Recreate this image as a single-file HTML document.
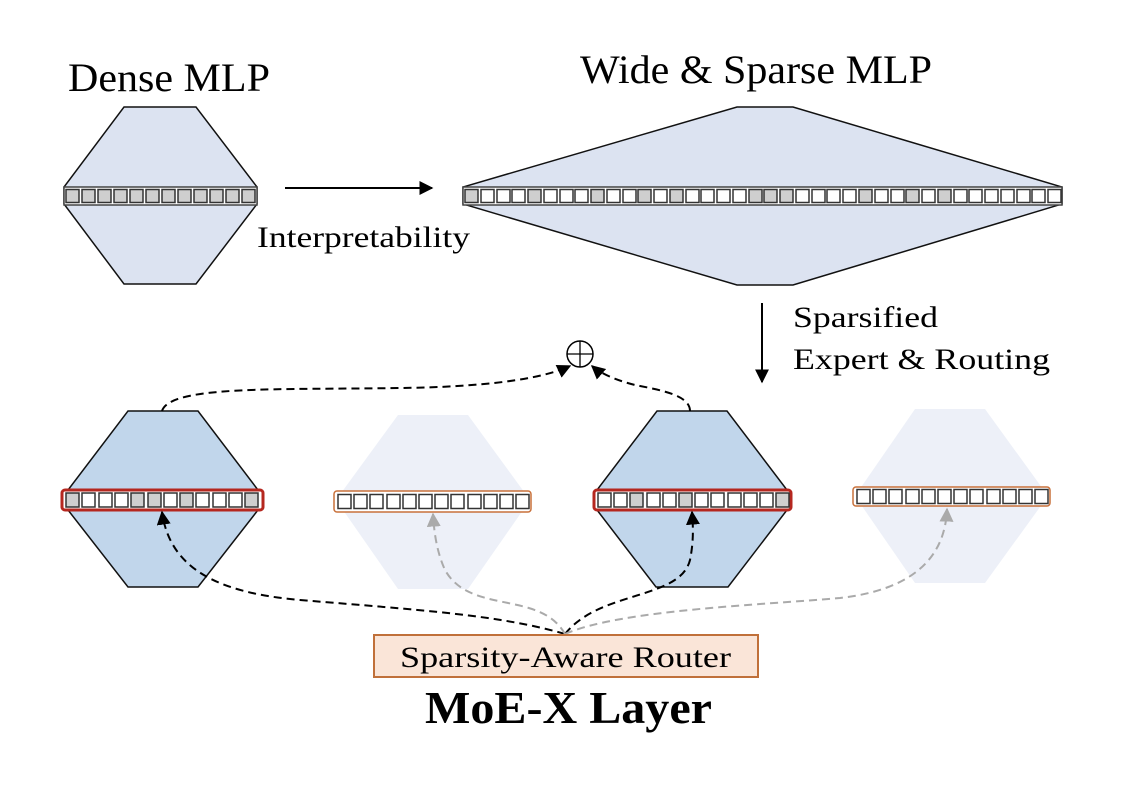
<!DOCTYPE html>
<html><head><meta charset="utf-8"><style>
html,body{margin:0;padding:0;background:#fff;width:1146px;height:802px;overflow:hidden}
svg{display:block}
text{font-family:"Liberation Serif",serif;fill:#000}
.c{stroke:#333;stroke-width:1.5;fill:#fff}
.g{stroke:#333;stroke-width:1.5;fill:#cfcfcf}
</style></head><body>
<svg width="1146" height="802" viewBox="0 0 1146 802" xmlns="http://www.w3.org/2000/svg">
<defs>
<marker id="ab" viewBox="0 0 10 10" refX="9" refY="5" markerWidth="7" markerHeight="7" orient="auto"><path d="M0,0 L10,5 L0,10 z" fill="#000"/></marker>
<marker id="ag" viewBox="0 0 10 10" refX="9" refY="5" markerWidth="7" markerHeight="7" orient="auto"><path d="M0,0 L10,5 L0,10 z" fill="#aaa"/></marker>
</defs>
<text x="68" y="91" font-size="40" textLength="202" lengthAdjust="spacingAndGlyphs">Dense MLP</text>
<text x="580" y="83" font-size="40" textLength="352" lengthAdjust="spacingAndGlyphs">Wide &amp; Sparse MLP</text>

<!-- dense hex -->
<polygon points="124,107 196,107 257,187 257,204 196,284 124,284 64,204 64,187" fill="#dce3f1" stroke="#111" stroke-width="1.5"/>
<rect x="64" y="187" width="193" height="18" fill="#fff" stroke="#444" stroke-width="1.5"/>
<g>
<rect class="g" x="66" y="189.5" width="13" height="13"/><rect class="g" x="82" y="189.5" width="13" height="13"/><rect class="g" x="98" y="189.5" width="13" height="13"/><rect class="g" x="114" y="189.5" width="13" height="13"/><rect class="g" x="130" y="189.5" width="13" height="13"/><rect class="g" x="146" y="189.5" width="13" height="13"/><rect class="g" x="162" y="189.5" width="13" height="13"/><rect class="g" x="178" y="189.5" width="13" height="13"/><rect class="g" x="194" y="189.5" width="13" height="13"/><rect class="g" x="210" y="189.5" width="13" height="13"/><rect class="g" x="226" y="189.5" width="13" height="13"/><rect class="g" x="242" y="189.5" width="13" height="13"/>
</g>

<line x1="285" y1="188" x2="432" y2="188" stroke="#000" stroke-width="2" marker-end="url(#ab)"/>
<text x="257" y="247" font-size="30" textLength="213" lengthAdjust="spacingAndGlyphs">Interpretability</text>

<!-- wide -->
<polygon points="737,107 793,107 1062,187 1062,204 793,285 737,285 463,204 463,187" fill="#dce3f1" stroke="#111" stroke-width="1.5"/>
<rect x="463" y="187" width="599" height="18" fill="#fff" stroke="#444" stroke-width="1.5"/>
<g>
<rect class="g" x="465" y="189.5" width="13" height="13"/><rect class="c" x="481" y="189.5" width="13" height="13"/><rect class="c" x="497" y="189.5" width="13" height="13"/><rect class="c" x="512" y="189.5" width="13" height="13"/><rect class="g" x="528" y="189.5" width="13" height="13"/><rect class="c" x="544" y="189.5" width="13" height="13"/><rect class="c" x="560" y="189.5" width="13" height="13"/><rect class="c" x="575" y="189.5" width="13" height="13"/><rect class="g" x="591" y="189.5" width="13" height="13"/><rect class="c" x="607" y="189.5" width="13" height="13"/><rect class="c" x="623" y="189.5" width="13" height="13"/><rect class="g" x="638" y="189.5" width="13" height="13"/><rect class="c" x="654" y="189.5" width="13" height="13"/><rect class="g" x="670" y="189.5" width="13" height="13"/><rect class="c" x="686" y="189.5" width="13" height="13"/><rect class="c" x="701" y="189.5" width="13" height="13"/><rect class="c" x="717" y="189.5" width="13" height="13"/><rect class="c" x="733" y="189.5" width="13" height="13"/><rect class="g" x="749" y="189.5" width="13" height="13"/><rect class="g" x="764" y="189.5" width="13" height="13"/><rect class="g" x="780" y="189.5" width="13" height="13"/><rect class="c" x="796" y="189.5" width="13" height="13"/><rect class="c" x="812" y="189.5" width="13" height="13"/><rect class="c" x="827" y="189.5" width="13" height="13"/><rect class="c" x="843" y="189.5" width="13" height="13"/><rect class="g" x="859" y="189.5" width="13" height="13"/><rect class="c" x="875" y="189.5" width="13" height="13"/><rect class="c" x="891" y="189.5" width="13" height="13"/><rect class="g" x="906" y="189.5" width="13" height="13"/><rect class="c" x="922" y="189.5" width="13" height="13"/><rect class="g" x="938" y="189.5" width="13" height="13"/><rect class="c" x="954" y="189.5" width="13" height="13"/><rect class="c" x="969" y="189.5" width="13" height="13"/><rect class="c" x="985" y="189.5" width="13" height="13"/><rect class="c" x="1001" y="189.5" width="13" height="13"/><rect class="c" x="1017" y="189.5" width="13" height="13"/><rect class="c" x="1032" y="189.5" width="13" height="13"/><rect class="c" x="1048" y="189.5" width="13" height="13"/>
</g>

<line x1="762" y1="303" x2="762" y2="382" stroke="#000" stroke-width="2" marker-end="url(#ab)"/>
<text x="793" y="327" font-size="30" textLength="145" lengthAdjust="spacingAndGlyphs">Sparsified</text>
<text x="793" y="369" font-size="30" textLength="257" lengthAdjust="spacingAndGlyphs">Expert &amp; Routing</text>

<!-- expert 1 -->
<polygon points="128,411 198,411 258,490 258,510 198,587 128,587 68,510 68,490" fill="#c1d6eb" stroke="#111" stroke-width="1.5"/>
<rect x="62" y="490" width="201" height="20" rx="3" fill="#fff" stroke="#b5271f" stroke-width="3"/>
<g>
<rect class="g" x="66" y="493" width="13" height="14"/><rect class="c" x="82" y="493" width="13" height="14"/><rect class="c" x="99" y="493" width="13" height="14"/><rect class="c" x="115" y="493" width="13" height="14"/><rect class="g" x="131" y="493" width="13" height="14"/><rect class="g" x="148" y="493" width="13" height="14"/><rect class="c" x="164" y="493" width="13" height="14"/><rect class="g" x="180" y="493" width="13" height="14"/><rect class="c" x="196" y="493" width="13" height="14"/><rect class="c" x="213" y="493" width="13" height="14"/><rect class="c" x="229" y="493" width="13" height="14"/><rect class="g" x="245" y="493" width="13" height="14"/>
</g>

<!-- expert 2 faded -->
<polygon points="398,415 468,415 530,500 468,589 398,589 336,500" fill="#edf0f8"/>
<rect x="334" y="491" width="197" height="21" rx="3" fill="#fff" stroke="#c8703a" stroke-width="1.5"/>
<g>
<rect class="c" x="338" y="494.5" width="13" height="14"/><rect class="c" x="354" y="494.5" width="13" height="14"/><rect class="c" x="370" y="494.5" width="13" height="14"/><rect class="c" x="387" y="494.5" width="13" height="14"/><rect class="c" x="403" y="494.5" width="13" height="14"/><rect class="c" x="419" y="494.5" width="13" height="14"/><rect class="c" x="435" y="494.5" width="13" height="14"/><rect class="c" x="451" y="494.5" width="13" height="14"/><rect class="c" x="468" y="494.5" width="13" height="14"/><rect class="c" x="484" y="494.5" width="13" height="14"/><rect class="c" x="500" y="494.5" width="13" height="14"/><rect class="c" x="516" y="494.5" width="13" height="14"/>
</g>

<!-- expert 3 -->
<polygon points="657,411 727,411 787,490 787,510 728,587 656,587 597,510 597,490" fill="#c1d6eb" stroke="#111" stroke-width="1.5"/>
<rect x="594" y="490" width="197" height="20" rx="3" fill="#fff" stroke="#b5271f" stroke-width="3"/>
<g>
<rect class="c" x="598" y="493" width="13" height="14"/><rect class="c" x="614" y="493" width="13" height="14"/><rect class="g" x="630" y="493" width="13" height="14"/><rect class="c" x="647" y="493" width="13" height="14"/><rect class="c" x="663" y="493" width="13" height="14"/><rect class="g" x="679" y="493" width="13" height="14"/><rect class="c" x="695" y="493" width="13" height="14"/><rect class="c" x="711" y="493" width="13" height="14"/><rect class="c" x="728" y="493" width="13" height="14"/><rect class="c" x="744" y="493" width="13" height="14"/><rect class="c" x="760" y="493" width="13" height="14"/><rect class="g" x="776" y="493" width="13" height="14"/>
</g>

<!-- expert 4 faded -->
<polygon points="915,409 985,409 1048,496 985,583 915,583 855,496" fill="#edf0f8"/>
<rect x="853" y="487" width="197" height="19" rx="3" fill="#fff" stroke="#c8703a" stroke-width="1.5"/>
<g>
<rect class="c" x="857" y="489.5" width="13" height="14"/><rect class="c" x="873" y="489.5" width="13" height="14"/><rect class="c" x="889" y="489.5" width="13" height="14"/><rect class="c" x="906" y="489.5" width="13" height="14"/><rect class="c" x="922" y="489.5" width="13" height="14"/><rect class="c" x="938" y="489.5" width="13" height="14"/><rect class="c" x="954" y="489.5" width="13" height="14"/><rect class="c" x="970" y="489.5" width="13" height="14"/><rect class="c" x="987" y="489.5" width="13" height="14"/><rect class="c" x="1003" y="489.5" width="13" height="14"/><rect class="c" x="1019" y="489.5" width="13" height="14"/><rect class="c" x="1035" y="489.5" width="13" height="14"/>
</g>

<!-- plus circle -->
<circle cx="580" cy="354" r="13" fill="#fff" stroke="#000" stroke-width="1.5"/>
<line x1="567" y1="354" x2="593" y2="354" stroke="#000" stroke-width="1.3"/>
<line x1="580" y1="341" x2="580" y2="367" stroke="#000" stroke-width="1.3"/>

<!-- top dashed -->
<g fill="none" stroke="#000" stroke-width="2" stroke-dasharray="8,5">
<path d="M162,411 C170,385 280,390 400,388 C480,387 540,380 570,366" marker-end="url(#ab)"/>
<path d="M690,411 C690,395 660,390 635,385 C615,380 600,373 592,366" marker-end="url(#ab)"/>
<path d="M565,634 C500,615 420,610 300,600 C220,593 170,570 162,512" marker-end="url(#ab)"/>
<path d="M565,634 C600,590 680,600 690,560 C694,540 693,525 692,512" marker-end="url(#ab)"/>
</g>
<g fill="none" stroke="#aaa" stroke-width="2" stroke-dasharray="8,5">
<path d="M565,634 C540,590 470,615 445,570 C436,550 434,530 433,514" marker-end="url(#ag)"/>
<path d="M565,634 C620,610 760,605 840,598 C910,590 945,560 947,509" marker-end="url(#ag)"/>
</g>

<!-- router -->
<rect x="374" y="635" width="384" height="42" fill="#fae5d8" stroke="#c0703a" stroke-width="2"/>
<text x="400" y="667" font-size="30" textLength="331" lengthAdjust="spacingAndGlyphs">Sparsity-Aware Router</text>
<text x="425" y="723" font-size="46" font-weight="bold" textLength="287" lengthAdjust="spacingAndGlyphs">MoE-X Layer</text>
</svg>
</body></html>
